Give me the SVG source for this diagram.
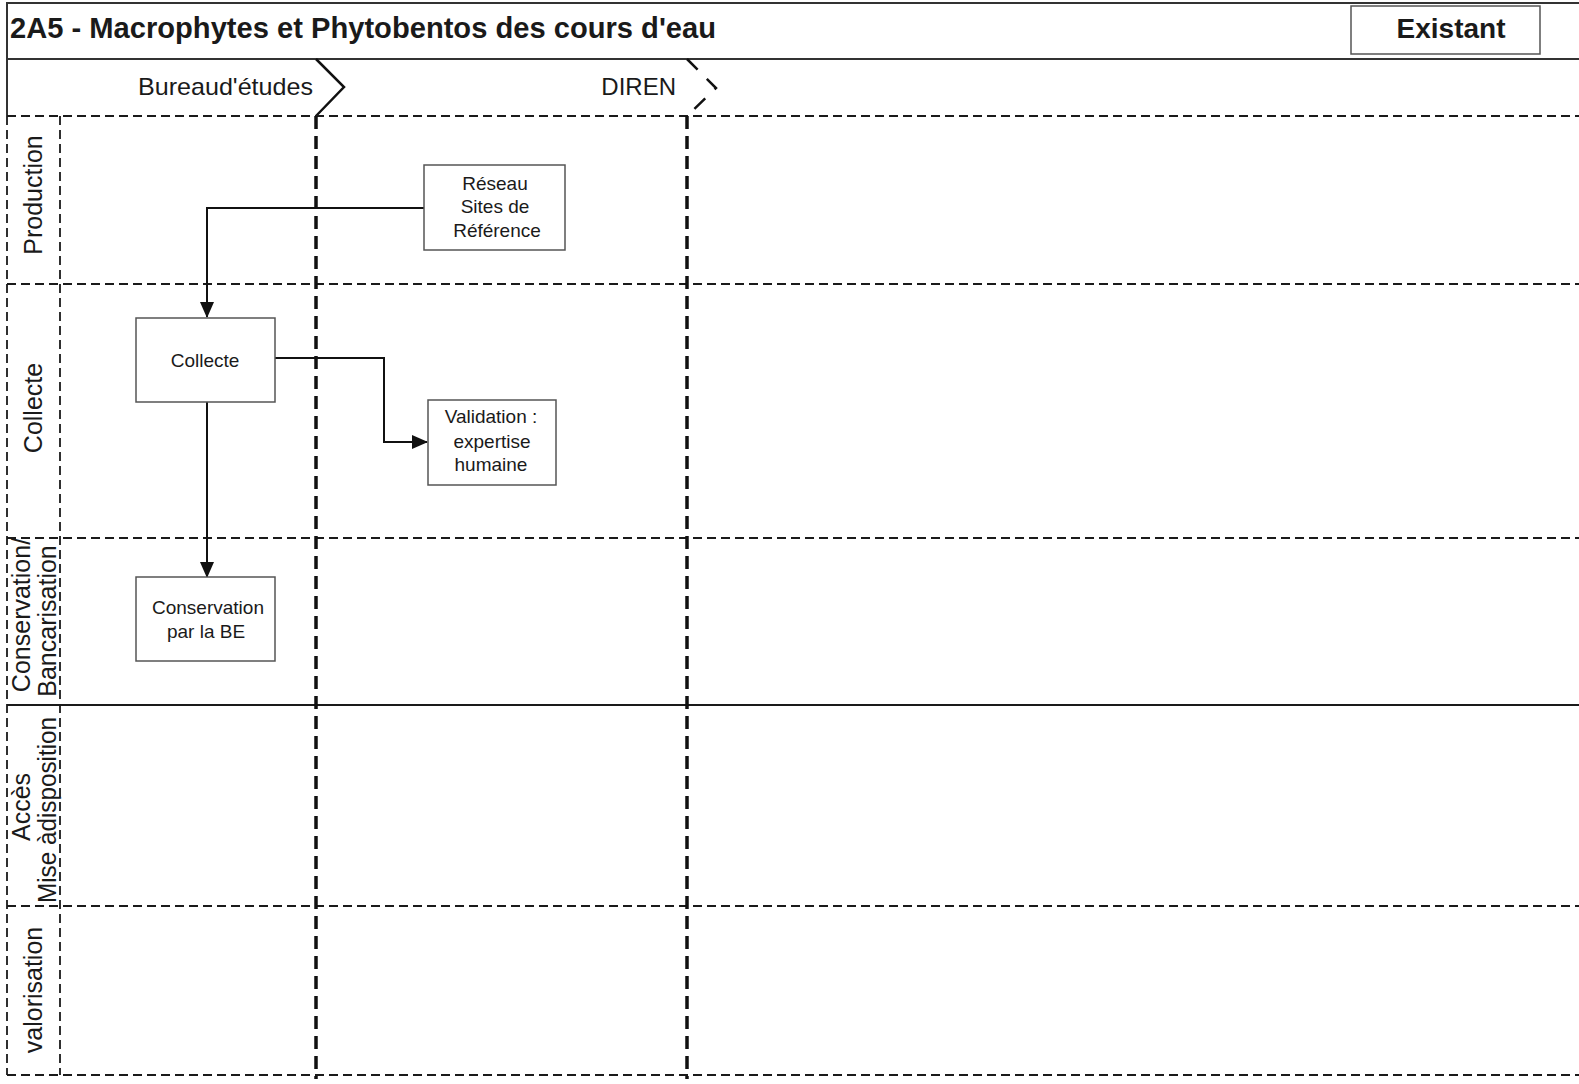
<svg xmlns="http://www.w3.org/2000/svg" width="1579" height="1084" viewBox="0 0 1579 1084">
<defs>
<style>
.t{font-family:"Liberation Sans",Arial,sans-serif;fill:#1a1a1a}
.node rect{fill:#fff;stroke:#555;stroke-width:1.5}
.node text{font-size:19px;text-anchor:middle}
.lane{fill:none;stroke:#1a1a1a;stroke-width:1.8;stroke-dasharray:9 5}
.col{fill:none;stroke:#111;stroke-width:3.5;stroke-dasharray:13 7}
.ll{font-size:25px;text-anchor:middle}
.conn{fill:none;stroke:#111;stroke-width:2}
</style>
<marker id="arrd" markerWidth="16" markerHeight="16" refX="15" refY="8" orient="auto" markerUnits="userSpaceOnUse" viewBox="0 0 16 16">
<path d="M0,1 L16,8 L0,15 z" fill="#111"/>
</marker>
</defs>
<rect x="0" y="0" width="1579" height="1084" fill="#fff"/>
<g id="frame">
<polyline points="1579,3 7,3 7,116" fill="none" stroke="#333" stroke-width="2"/>
<line x1="7" y1="59" x2="1579" y2="59" stroke="#333" stroke-width="2"/>
<text class="t" x="10" y="38" font-size="29" font-weight="bold" textLength="706" lengthAdjust="spacingAndGlyphs">2A5 - Macrophytes et Phytobentos des cours d'eau</text>
<rect x="1351" y="6" width="189" height="48" fill="#fff" stroke="#555" stroke-width="1.5"/>
<text class="t" x="1451" y="38" font-size="28" font-weight="bold" text-anchor="middle">Existant</text>
</g>
<g id="header">
<text class="t" x="138" y="95" font-size="24" textLength="175" lengthAdjust="spacingAndGlyphs">Bureaud'études</text>
<polyline points="316,59 344,87 316,116" fill="none" stroke="#111" stroke-width="2.5"/>
<text class="t" x="676" y="95" font-size="24" text-anchor="end">DIREN</text>
<polyline points="687,59 716,88 687,116" fill="none" stroke="#111" stroke-width="2.5" stroke-dasharray="15 13"/>
</g>
<g id="lanes">
<line class="lane" x1="7" y1="116" x2="1579" y2="116"/>
<line class="lane" x1="7" y1="284" x2="1579" y2="284"/>
<line class="lane" x1="7" y1="538" x2="1579" y2="538"/>
<line x1="7" y1="705" x2="1579" y2="705" stroke="#1a1a1a" stroke-width="2"/>
<line class="lane" x1="7" y1="906" x2="1579" y2="906"/>
<line class="lane" x1="7" y1="1075" x2="1579" y2="1075"/>
<line class="lane" x1="7" y1="116" x2="7" y2="1075"/>
<line class="lane" x1="60" y1="116" x2="60" y2="1075"/>
<line class="col" x1="316" y1="116" x2="316" y2="1079"/>
<line class="col" x1="687" y1="116" x2="687" y2="1079"/>
<text class="t ll" transform="translate(42,195) rotate(-90)">Production</text>
<text class="t ll" transform="translate(42,408) rotate(-90)">Collecte</text>
<text class="t ll" transform="translate(30,615) rotate(-90)">Conservation/</text>
<text class="t ll" transform="translate(56,621) rotate(-90)">Bancarisation</text>
<text class="t ll" transform="translate(30,807) rotate(-90)">Accès</text>
<text class="t ll" transform="translate(56,810) rotate(-90)" textLength="186" lengthAdjust="spacingAndGlyphs">Mise àdisposition</text>
<text class="t ll" transform="translate(42,990) rotate(-90)">valorisation</text>
</g>
<g id="connectors">
<polyline class="conn" points="424,208 207,208 207,317" marker-end="url(#arrd)"/>
<polyline class="conn" points="275,358 384,358 384,442 427,442" marker-end="url(#arrd)"/>
<polyline class="conn" points="207,402 207,577" marker-end="url(#arrd)"/>
</g>
<g id="n-reseau" class="node">
<rect x="424" y="165" width="141" height="85"/>
<text class="t" x="495" y="190">Réseau</text>
<text class="t" x="495" y="213">Sites de</text>
<text class="t" x="497" y="237">Référence</text>
</g>
<g id="n-collecte" class="node">
<rect x="136" y="318" width="139" height="84"/>
<text class="t" x="205" y="367">Collecte</text>
</g>
<g id="n-validation" class="node">
<rect x="428" y="400" width="128" height="85"/>
<text class="t" x="491" y="423">Validation :</text>
<text class="t" x="492" y="448">expertise</text>
<text class="t" x="491" y="471">humaine</text>
</g>
<g id="n-conservation" class="node">
<rect x="136" y="577" width="139" height="84"/>
<text class="t" x="208" y="614">Conservation</text>
<text class="t" x="206" y="638">par la BE</text>
</g>
</svg>
